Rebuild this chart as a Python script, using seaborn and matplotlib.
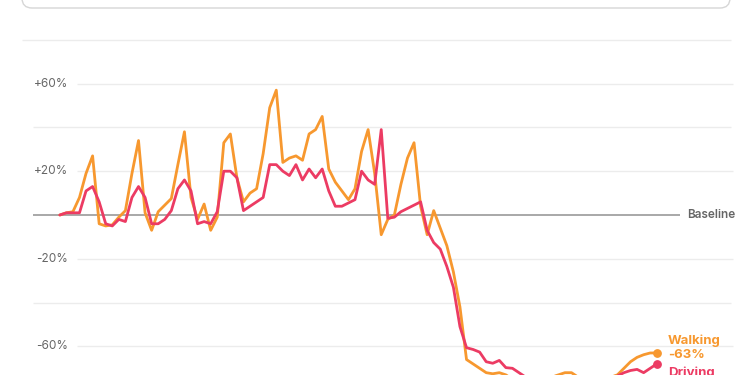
import numpy as np
import pandas as pd
import matplotlib
matplotlib.use("Agg")
import matplotlib.pyplot as plt
import seaborn as sns
from matplotlib.patches import FancyBboxPatch

# ---- data (percent change vs. baseline, daily) ----
walking = [0, 1, 1.5, 8, 19, 27, -4, -5, -4.5, -1, 2, 19, 34, 1, -7, 1.5, 4.5, 7.5, 23, 38,
           8, -2, 5, -7, -1, 33, 37, 17, 6, 10, 12, 28, 49, 57, 24, 26, 27, 25, 37, 39,
           45, 21, 15, 11, 7, 12, 29, 39, 19, -9, -2, 0, 14, 26, 33, 4, -9, 2, -6, -14,
           -26, -42, -66, -68, -70, -72, -72.5, -72, -73, -75, -77, -78, -77, -76, -76, -74, -73, -72, -72, -74,
           -76, -77, -76, -75, -74, -73, -70, -67, -65, -63.8, -63, -63]
driving = [0, 1, 1, 1, 11, 13, 6, -4, -5, -2, -3, 8, 13, 8, -4, -4, -2, 2, 12, 16,
           11, -4, -3, -4, 1.5, 20, 20, 17, 2, 4, 6, 8, 23, 23, 20, 18, 23, 16, 21, 17,
           21, 11, 4, 4, 5.5, 7, 20, 16, 14, 39, -1.5, -1, 1.5, 3, 4.5, 6, -7, -12.6, -15.6, -23.5,
           -33, -51, -60.6, -61.4, -62.6, -67, -67.7, -66.4, -69.7, -70, -72, -74, -75, -76, -75, -74, -75, -76, -75, -74,
           -75, -76, -75, -74, -74, -73.5, -72, -71, -70.5, -72, -70, -68]
series_names = ["Walking", "Driving"]
series_colors = ["#F7982F", "#EC3B63"]
tick_values = [60, 20, -20, -60]
tick_labels = ["+60%", "+20%", "-20%", "-60%"]
plain_grid = [80, 40, -40]
walking_label = "-63%"

days = np.arange(len(walking))
df = pd.DataFrame({
    "day": np.concatenate([days, days]),
    "value": np.concatenate([walking, driving]),
    "mode": ["Walking"] * len(walking) + ["Driving"] * len(driving),
})

W, H = 750, 375
sns.set_style("white")
plt.rcParams["font.family"] = ["Inter", "DejaVu Sans"]
fig = plt.figure(figsize=(W / 100, H / 100), dpi=100)
ax = fig.add_axes([0, 0, 1, 1])

# pixel mapping helpers (for layout only)
x0_px, dx_px = 59.8, 6.56
y0_px, dy_px = 215.0, 2.19
xmin = -x0_px / dx_px
xmax = (W - x0_px) / dx_px
ymax = y0_px / dy_px
ymin = -(H - y0_px) / dy_px


def px_x(p):
    return (p - x0_px) / dx_px


def px_y(p):
    return (y0_px - p) / dy_px


ax.set_xlim(xmin, xmax)
ax.set_ylim(ymin, ymax)
ax.axis("off")

fam = ["Inter", "DejaVu Sans"]
grid_c = "#ECECEC"
for v in plain_grid:
    ax.hlines(v, px_x(33 if v != 80 else 22), px_x(731), color=grid_c, lw=1.0, zorder=1)
for v, lab in zip(tick_values, tick_labels):
    ax.hlines(v, px_x(77), px_x(733), color=grid_c, lw=1.0, zorder=1)
    ax.text(px_x(68), v, lab, ha="right", va="center", fontsize=8.5, color="#666666",
            family=fam)

# baseline
ax.hlines(0, px_x(33), px_x(680), color="#9A9A9A", lw=1.2, zorder=2)
ax.text(px_x(687), 0, "Baseline", ha="left", va="center", fontsize=8.5, color="#666666",
        fontweight="semibold", family=fam)

sns.lineplot(data=df, x="day", y="value", hue="mode", hue_order=["Walking", "Driving"],
             palette={"Walking": series_colors[0], "Driving": series_colors[1]},
             linewidth=2.0, legend=False, ax=ax, zorder=3)

ax.scatter([days[-1]], [walking[-1]], s=28, color=series_colors[0], zorder=5)
ax.scatter([days[-1]], [driving[-1]], s=28, color=series_colors[1], zorder=5)

ax.text(px_x(668), px_y(340.5), "Walking", ha="left", va="center", fontsize=9.5,
        fontweight="bold", color=series_colors[0], family=fam)
ax.text(px_x(668), px_y(354.5), walking_label, ha="left", va="center", fontsize=9.5,
        fontweight="bold", color=series_colors[0], family=fam)
ax.text(px_x(668), px_y(373), "Driving", ha="left", va="center", fontsize=9.5,
        fontweight="bold", color=series_colors[1], family=fam)

# top rounded box (mostly above the visible area); pixel coords from top-left
box = FancyBboxPatch((22, H - 8), 708, 60, boxstyle="round,pad=0,rounding_size=10",
                     transform=None, facecolor="white", edgecolor="#D6D6D6", lw=1.0)
fig.patches.append(box)

fig.savefig("out.png", dpi=100, facecolor="white")
